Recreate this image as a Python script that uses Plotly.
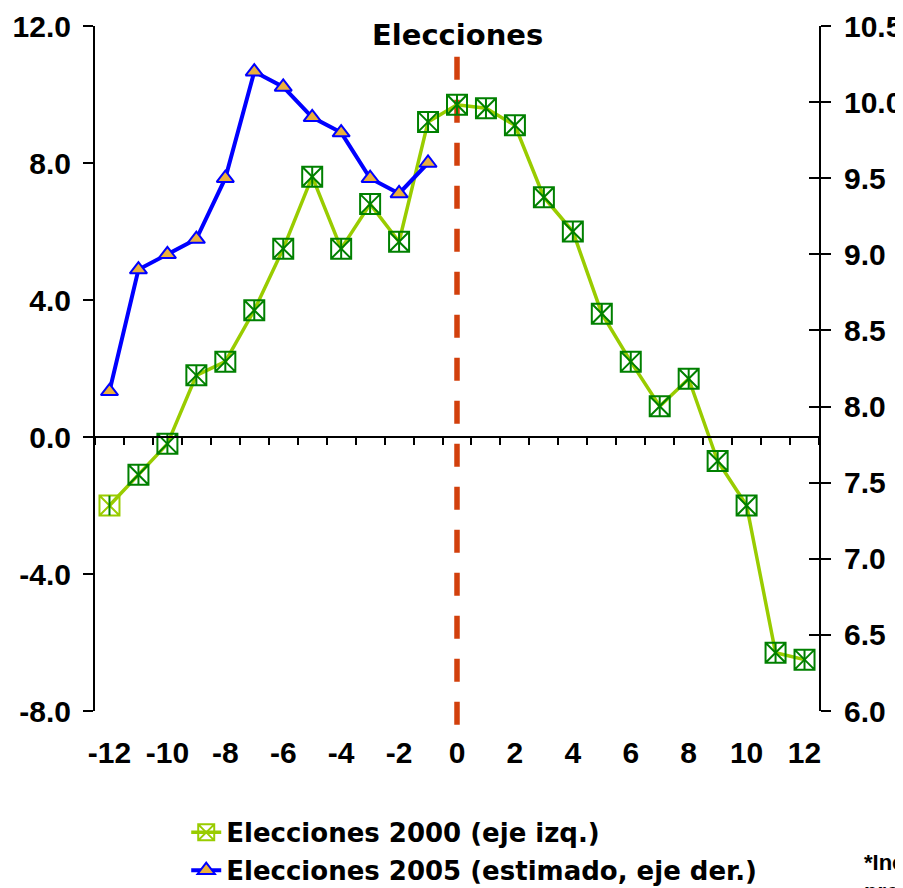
import plotly.graph_objects as go

# ---- data ----
months = list(range(-12, 13))
elecciones_2000 = [-2.0, -1.1, -0.2, 1.8, 2.2, 3.7, 5.5, 7.6, 5.5, 6.8, 5.7, 9.2,
                   9.7, 9.6, 9.1, 7.0, 6.0, 3.6, 2.2, 0.9, 1.7, -0.7, -2.0, -6.3, -6.5]
months_2005 = list(range(-12, 0))
elecciones_2005 = [8.1, 8.9, 9.0, 9.1, 9.5, 10.2, 10.1, 9.9, 9.8, 9.5, 9.4, 9.6]
x_ticks = list(range(-12, 13, 2))
left_ticks = [-8.0, -4.0, 0.0, 4.0, 8.0, 12.0]
right_ticks = [6.0, 6.5, 7.0, 7.5, 8.0, 8.5, 9.0, 9.5, 10.0, 10.5]
election_x = 0
name_2000 = "Elecciones 2000 (eje izq.)"
name_2005 = "Elecciones 2005 (estimado, eje der.)"

LIGHT_GREEN = "#99CC00"
DARK_GREEN = "#008000"
BLUE = "#0000FF"
GOLD = "#EBB03C"
RED = "#D2400C"
TICKFONT = dict(family="Liberation Sans, Arial", size=30, color="black", weight="bold")

fig = go.Figure()

fig.add_trace(go.Scatter(
    x=months, y=elecciones_2000, name=name_2000, mode="lines+markers",
    legendgroup="g2000",
    line=dict(color=LIGHT_GREEN, width=3.5),
    marker=dict(symbol="square-x-open", size=20,
                color=[LIGHT_GREEN] + [DARK_GREEN] * (len(months) - 1),
                line=dict(width=2)),
    yaxis="y", xaxis="x", cliponaxis=False))
fig.add_trace(go.Scatter(
    x=months, y=elecciones_2000, mode="markers", showlegend=False, legendgroup="g2000",
    marker=dict(symbol="line-ns-open", size=14, color=DARK_GREEN, line=dict(width=2)),
    yaxis="y", xaxis="x", cliponaxis=False, hoverinfo="skip"))
fig.add_trace(go.Scatter(
    x=months_2005, y=elecciones_2005, name=name_2005, mode="lines+markers",
    legendgroup="g2005",
    line=dict(color=BLUE, width=4),
    marker=dict(symbol="triangle-up", size=15, color=GOLD, line=dict(color=BLUE, width=2)),
    yaxis="y2", xaxis="x", cliponaxis=False))

# election dashed line
fig.add_shape(type="line", xref="x", yref="paper", x0=election_x, x1=election_x,
              y0=0.955, y1=-0.032, line=dict(color=RED, width=5.5, dash="23px,20px"),
              layer="below")

fig.add_annotation(text="Elecciones", x=election_x, xref="x", y=0.987, yref="paper",
                   showarrow=False, xanchor="center", yanchor="middle",
                   font=dict(family="DejaVu Sans", size=29, color="black", weight="bold"))
fig.add_annotation(text="*Incluye<br>proyecciones", x=1.059, xref="paper", y=-0.2, yref="paper",
                   showarrow=False, xanchor="left", yanchor="top", align="left",
                   font=dict(family="Liberation Sans, Arial", size=22, color="black", weight="bold"))

half = 0.5
boundaries = [m - half for m in months] + [months[-1] + half]

# the page body adds an 8px offset, so the figure is 8px smaller than the window
fig.update_layout(
    width=895, height=880,
    margin=dict(l=87, r=84, t=18, b=177, autoexpand=False),
    paper_bgcolor="white", plot_bgcolor="white",
    showlegend=True,
    legend=dict(x=0.126, y=-0.143, xanchor="left", yanchor="top", xref="paper", yref="paper",
                font=dict(family="DejaVu Sans", size=26, color="black", weight="bold"),
                bgcolor="rgba(0,0,0,0)", traceorder="grouped", tracegroupgap=1, itemwidth=30),
    xaxis=dict(range=[months[0] - half, months[-1] + half], tickvals=x_ticks,
               ticktext=[str(v) for v in x_ticks], ticks="", showline=False, automargin=False,
               showgrid=False, zeroline=False, tickfont=TICKFONT, ticklabelstandoff=21),
    xaxis2=dict(range=[months[0] - half, months[-1] + half], overlaying="x", anchor="free",
                position=0.4, side="bottom", tickvals=boundaries, ticks="outside", ticklen=7,
                tickwidth=2, tickcolor="black", showline=True, linewidth=2, linecolor="black",
                showticklabels=False, showgrid=False, zeroline=False, automargin=False),
    yaxis=dict(range=[left_ticks[0], left_ticks[-1]], tickvals=left_ticks,
               ticktext=[f"{v:.1f}" for v in left_ticks], ticks="outside", ticklen=10,
               tickwidth=2, tickcolor="black", showline=True, linewidth=2, linecolor="black",
               showgrid=False, zeroline=False, tickfont=TICKFONT, ticklabelstandoff=6,
               automargin=False),
    yaxis2=dict(range=[right_ticks[0], right_ticks[-1]], overlaying="y", side="right",
                anchor="x", tickvals=right_ticks, ticktext=[f"{v:.1f}" for v in right_ticks],
                ticks="outside", ticklen=10, tickwidth=2, tickcolor="black", showline=True,
                linewidth=2, linecolor="black", showgrid=False, zeroline=False,
                tickfont=TICKFONT, ticklabelstandoff=7, automargin=False),
    yaxis3=dict(range=[right_ticks[0], right_ticks[-1]], overlaying="y", side="right",
                anchor="x", tickvals=right_ticks, ticks="inside", ticklen=10, tickwidth=2,
                tickcolor="black", showline=False, showticklabels=False, showgrid=False,
                zeroline=False, automargin=False),
)
# invisible trace that activates the helper axes x2 and y3
fig.add_trace(go.Scatter(x=[None], y=[None], xaxis="x2", yaxis="y3", showlegend=False,
                         hoverinfo="skip"))

fig.write_html("out.html")
